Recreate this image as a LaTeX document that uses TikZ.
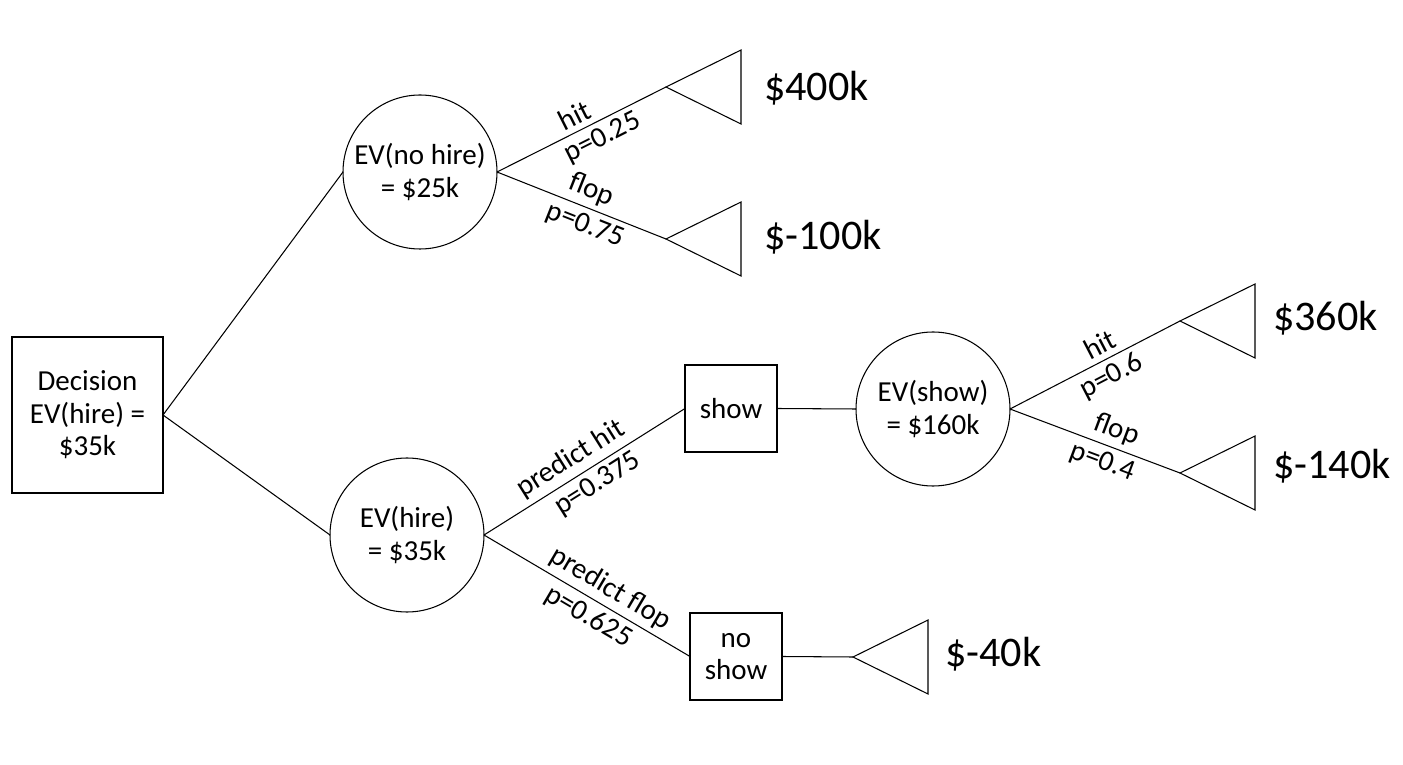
\documentclass[tikz,border=0pt]{standalone}
\usepackage{fontspec}
\setmainfont{Carlito}

\begin{document}
\begin{tikzpicture}[x=0.2mm, y=-0.2mm, line width=0.6pt,
    every node/.style={outer sep=0pt, align=center, font=\fontsize{16.5}{18.5}\selectfont},
    decision/.style={draw, rectangle, minimum width=30.2mm, minimum height=31.2mm},
    chance/.style={draw, circle, minimum size=30.8mm, inner sep=0pt},
    act/.style={draw, rectangle, minimum width=18.4mm, minimum height=17.4mm},
    payoff/.style={anchor=west, inner sep=0pt, font=\fontsize{24}{28}\selectfont},
    lab/.style={sloped, inner sep=3.2pt}]
    \useasboundingbox (0,0) rectangle (1403,765);

    \node[decision](dec) at (87.5,415) {Decision\\EV(hire) =\\\$35k};
    \node[chance](nohire) at (420,172) {EV(no hire)\\= \$25k};
    \node[chance](hire) at (407,535) {EV(hire)\\= \$35k};

    \node[act](show) at (731,408.5) {show};
    \node[act](noshow) at (736,656.5) {no\\show};
    \node[chance](showev) at (933,409) {EV(show)\\= \$160k};

    % end points
    \coordinate (t1) at (666,87);
    \coordinate (t2) at (666,239);
    \coordinate (t3) at (1180,321);
    \coordinate (t4) at (1180,473);
    \coordinate (t5) at (853,657);
    \foreach \t in {t1,t2,t3,t4,t5}
        \draw (\t) -- ++(75,-37) -- ++(0,74) -- cycle;

    \node[payoff](v1) at (764,88) {\$400k};
    \node[payoff](v2) at (764,237) {\$-100k};
    \node[payoff](v3) at (1273,318) {\$360k};
    \node[payoff](v4) at (1273,466) {\$-140k};
    \node[payoff](v5) at (945,654) {\$-40k};

    \draw (dec.east) -- (nohire.west);
    \draw (dec.east) -- (hire.west);

    % no hire
    \draw (nohire.east) -- node[lab, above, pos=0.5]{hit} node[lab, below, pos=0.58]{p=0.25} (t1);
    \draw (nohire.east) -- node[lab, above, pos=0.52]{flop} node[lab, below, pos=0.56]{p=0.75} (t2);

    % hire
    \draw (hire.east) -- node[lab, above, pos=0.48]{predict hit} node[lab, below, pos=0.52]{p=0.375} (show.west);
    \draw (hire.east) -- node[lab, above, pos=0.57]{predict flop} node[lab, below, pos=0.55]{p=0.625} (noshow.west);
    \draw (show.east) -- (showev.west);
    \draw (noshow.east) -- (t5);

    % show
    \draw (showev.east) -- node[lab, above, pos=0.57]{hit} node[lab, below, pos=0.55]{p=0.6} (t3);
    \draw (showev.east) -- node[lab, above, pos=0.59]{flop} node[lab, below, pos=0.58]{p=0.4} (t4);
\end{tikzpicture}
\end{document}
